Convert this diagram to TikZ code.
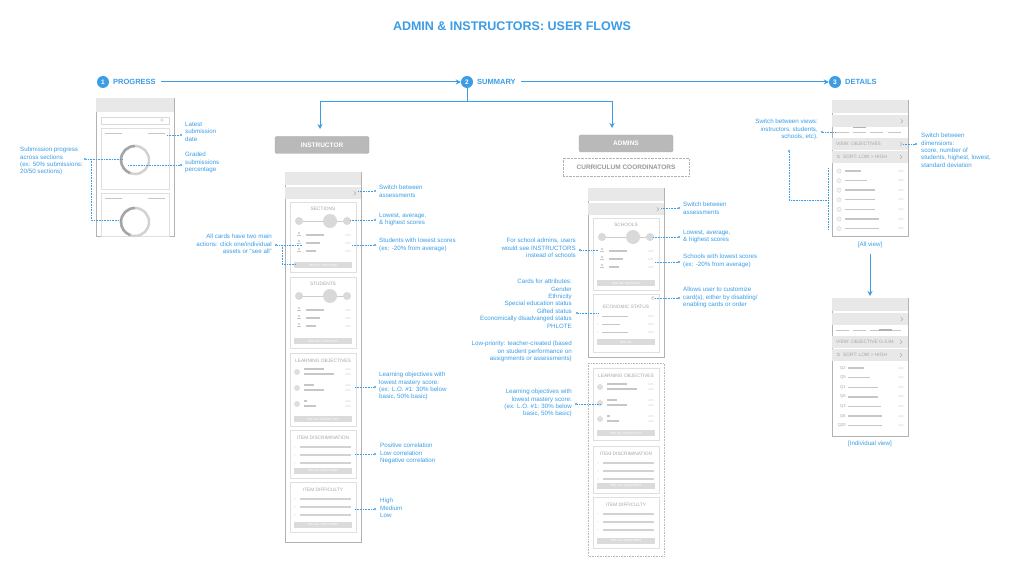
\documentclass[tikz,border=0pt]{standalone}
\usepackage{fontspec}
\setmainfont{Liberation Sans}
\newfontfamily\djv{DejaVu Sans}
\usetikzlibrary{arrows.meta}
\begin{document}
\begin{tikzpicture}[x=1pt,y=-1pt,
  lbl/.style={text=blueA,font=\fontsize{6.2}{7.4}\selectfont,align=left,anchor=north west,inner sep=0pt},
  lblr/.style={lbl,align=right,anchor=north east},
  dots/.style={blueA,densely dotted,line width=0.6pt},
  dotend/.style={fill=blueA,circle,inner sep=0.8pt},
  phone/.style={draw=gray!60,fill=white,line width=0.6pt},
  bar/.style={fill=gray!18,draw=none},
  card/.style={draw=gray!25,fill=white,line width=0.5pt},
  ctitle/.style={text=gray!70,font=\fontsize{4.8}{5}\selectfont,inner sep=0pt},
  btn/.style={fill=gray!28,draw=none},
  btxt/.style={text=white,font=\fontsize{3}{3}\selectfont,inner sep=0pt},
  line/.style={fill=gray!45,draw=none},
  pct/.style={text=gray!40,font=\fontsize{3}{3}\selectfont,inner sep=0pt},
  flow/.style={blueA,line width=1pt,-{Stealth[length=5pt,width=5pt]}},
  stepc/.style={circle,fill=blueA,text=white,font=\bfseries\fontsize{6.5}{6}\selectfont,inner sep=0pt,minimum size=12pt},
  steptxt/.style={text=blueA,font=\bfseries\fontsize{7.5}{8}\selectfont,anchor=west,inner sep=0pt},
  rolebox/.style={fill=gray!55,draw=gray!65,rounded corners=1.5pt,text=white,font=\bfseries\fontsize{6.5}{7}\selectfont,minimum width=94pt,minimum height=17pt,inner sep=0pt}
]
\definecolor{blueA}{HTML}{3A9DE6}
\useasboundingbox (0,0) rectangle (1024,577);
\fill[white] (0,0) rectangle (1024,577);

\node[text=blueA,font=\bfseries\fontsize{12.5}{14}\selectfont] (title) at (512,26) {ADMIN \& INSTRUCTORS: USER FLOWS};

% steps
\node[stepc] (s1) at (103,82) {1};
\node[steptxt] (t1) at (113,82) {PROGRESS};
\node[stepc] (s2) at (467,82) {2};
\node[steptxt] (t2) at (477,82) {SUMMARY};
\node[stepc] (s3) at (835,82) {3};
\node[steptxt] (t3) at (845,82) {DETAILS};
\draw[flow] (t1.east)++(5,0) -- (s2.west);
\draw[flow] (t2.east)++(5,0) -- (s3.west);
\coordinate (sp) at (467,102);
\draw[blueA,line width=1pt] (s2.south) -- (sp);
\draw[flow] (sp) -| (320,129);
\draw[flow] (sp) -| (612,128);

\node[rolebox] (instr) at (322,145) {INSTRUCTOR};
\node[rolebox] (adm) at (626,143.5) {ADMINS};
\node[draw=gray!60,densely dotted,text=gray!80,font=\bfseries\fontsize{6.5}{7}\selectfont,minimum width=126pt,minimum height=18pt,inner sep=0pt] (cc) at (626,167) {CURRICULUM COORDINATORS};

% ---------- helpers
\newcommand\topbars[3]{% x1 x2 y
  \fill[bar] (#1,#3) rectangle (#2,#3+13);
  \fill[bar] (#1,#3+15) rectangle (#2,#3+27);
  \draw[gray!60,line width=0.5pt] (#2-7,#3+19) -- (#2-5,#3+21) -- (#2-7,#3+23);}
\newcommand\scorecard[6]{% x1 y1 x2 y2 title button
  \draw[card] (#1,#2) rectangle (#3,#4);
  \node[ctitle] at ({(#1+#3)/2},#2+7) {#5};
  \draw[gray!40,line width=0.6pt] (#1+9,#2+19) -- (#3-9,#2+19);
  \fill[gray!30] (#1+9,#2+19) circle (4);
  \fill[gray!30] (#3-9,#2+19) circle (4);
  \fill[gray!30] ({(#1+#3)/2+7},#2+19) circle (7);
  \foreach \k/\w in {0/18,1/14,2/10}{
    \fill[gray!45] (#1+9,#2+31+\k*8) circle (1.2);
    \fill[gray!45] (#1+7,#2+33.2+\k*8) rectangle (#1+11,#2+34+\k*8);
    \fill[line] (#1+16,#2+32+\k*8) rectangle (#1+16+\w,#2+33.5+\k*8);
    \node[pct] at (#3-8,#2+33+\k*8) {xx\%};}
  \fill[btn] (#1+4,#4-10) rectangle (#3-4,#4-4);
  \node[btxt] at ({(#1+#3)/2},#4-7) {#6};}
\newcommand\locard[4]{% x1 y1 x2 y2
  \draw[card] (#1,#2) rectangle (#3,#4);
  \node[ctitle] at ({(#1+#3)/2},#2+8) {LEARNING OBJECTIVES};
  \foreach \k/\a/\b in {0/20/30,1/10/20,2/3/12}{
    \fill[gray!25] (#1+7,#2+19+\k*16) circle (3);
    \fill[line] (#1+14,#2+15+\k*16) rectangle (#1+14+\a,#2+16.5+\k*16);
    \fill[line] (#1+14,#2+20+\k*16) rectangle (#1+14+\b,#2+21.5+\k*16);
    \node[pct] at (#3-8,#2+16+\k*16) {xx\%};
    \node[pct] at (#3-8,#2+21+\k*16) {xx\%};}
  \fill[btn] (#1+4,#4-10) rectangle (#3-4,#4-4);
  \node[btxt] at ({(#1+#3)/2},#4-7) {SEE ALL OBJECTIVES};}
\newcommand\qcard[5]{% x1 y1 x2 y2 title
  \draw[card] (#1,#2) rectangle (#3,#4);
  \node[ctitle] at ({(#1+#3)/2},#2+8) {#5};
  \foreach \k in {0,1,2}{
    \node[pct] at (#1+5,#2+17+\k*8) {?};
    \fill[gray!35] (#1+10,#2+16+\k*8) rectangle (#3-5,#2+18+\k*8);}
  \fill[btn] (#1+4,#4-10) rectangle (#3-4,#4-4);
  \node[btxt] at ({(#1+#3)/2},#4-7) {SEE ALL QUESTIONS};}

% ---------- progress phone
\draw[phone] (96,98) rectangle (174,236);
\fill[bar] (96.3,98.3) rectangle (173.7,112);
\draw[gray!30] (101,117) rectangle (169,124);
\draw[gray!50] (162,120) circle (1.3);
\draw[card] (101,128) rectangle (169,189);
\draw[card] (101,193) rectangle (169,236);
\foreach \y in {133,198}{\fill[line] (105,\y) rectangle (122,\y+1.5); \fill[line] (148,\y) rectangle (165,\y+1.5);}
\draw[gray!35,line width=2.5pt] (135,160) circle (14);
\draw[gray!70,line width=2.5pt] (135,146) arc (270:110:14);
\draw[gray!35,line width=2.5pt] (135,222) circle (14);
\draw[gray!70,line width=2.5pt] (135,208) arc (270:110:14);

\node[lbl] (pl1) at (185,122) {Latest\\submission\\date};
\node[lbl] (pl2) at (185,152) {Graded\\submissions\\percentage};
\node[lbl] (pl3) at (20,147) {Submission progress\\across sections\\(ex: 50\% submissions:\\20/50 sections)};
\coordinate (pa1) at (167,135); \node[dotend] (pd1) at (181,135) {};
\draw[dots] (pa1) -- (pd1);
\coordinate (pa2) at (128,165); \node[dotend] (pd2) at (181,165) {};
\draw[dots] (pa2) -- (pd2);
\node[dotend] (pd3) at (85,159) {};
\coordinate (pa3) at (122,159); \coordinate (pa4) at (120,220);
\draw[dots] (pd3) -- (pa3);
\draw[dots] (91,159) |- (pa4);

% ---------- instructor phone
\draw[phone] (285,172) rectangle (361,542);
\topbars{285.3}{360.7}{172.3}
\scorecard{290}{202}{356}{272}{SECTIONS}{SEE ALL SECTIONS}
\scorecard{290}{277}{356}{348}{STUDENTS}{SEE ALL STUDENTS}
\locard{290}{353}{356}{426}
\qcard{290}{430}{356}{478}{ITEM DISCRIMINATION}
\qcard{290}{482}{356}{532}{ITEM DIFFICULTY}

\node[lbl] (il1) at (379,185) {Switch between\\assessments};
\node[lbl] (il2) at (379,213) {Lowest, average,\\\& highest scores};
\node[lbl] (il3) at (379,238) {Students with lowest scores\\(ex: -20\% from average)};
\node[lbl] (il4) at (379,372) {Learning objectives with\\lowest mastery score:\\(ex: L.O. \#1: 30\% below\\basic, 50\% basic)};
\node[lbl] (il5) at (380,443) {Positive correlation\\Low correlation\\Negative correlation};
\node[lbl] (il6) at (380,498) {High\\Medium\\Low};
\node[lblr] (il7) at (272,234) {All cards have two main\\actions: click one/individual\\assets or “see all”};
\foreach \n/\xa/\y in {1/358/191,2/350/220,3/352/245,4/355/387,5/355/454,6/355/509}{
  \coordinate (ia\n) at (\xa,\y); \node[dotend] (id\n) at (375,\y) {}; \draw[dots] (ia\n) -- (id\n);}
\node[dotend] (id7) at (276,245) {};
\coordinate (ia7) at (302,245); \coordinate (ia8) at (296,264);
\draw[dots] (id7) -- (ia7);
\draw[dots] (282,245) |- (ia8);

% ---------- admins phone
\draw[phone] (588,188) rectangle (664,357);
\topbars{588.3}{663.7}{188.3}
\scorecard{593}{218}{659}{290}{SCHOOLS}{SEE ALL SCHOOLS}
\draw[card] (593,294) rectangle (659,352);
\draw[gray!50,line width=0.5pt] (653,298) circle (1.6);
\node[ctitle] at (626,307) {ECONOMIC STATUS};
\foreach \k/\w in {0/26,1/18,2/26}{
  \node[pct] at (598,316+\k*8) {1};
  \fill[line] (602,315.5+\k*8) rectangle (602+\w,317+\k*8);
  \node[pct] at (651,316+\k*8) {xx\%};}
\fill[btn] (597,339) rectangle (655,345);
\node[btxt] at (626,342) {SEE ALL};
\draw[gray!55,densely dotted,line width=0.6pt] (588,363) rectangle (664,556);
\locard{593}{368}{659}{440}
\qcard{593}{446}{659}{493}{ITEM DISCRIMINATION}
\qcard{593}{497}{659}{548}{ITEM DIFFICULTY}

\node[lbl] (al1) at (683,202) {Switch between\\assessments};
\node[lbl] (al2) at (683,230) {Lowest, average,\\\& highest scores};
\node[lbl] (al3) at (683,254) {Schools with lowest scores\\(ex: -20\% from average)};
\node[lbl] (al4) at (683,287) {Allows user to customize\\card(s), either by disabling/\\enabling cards or order};
\foreach \n/\xa/\y in {1/661/208,2/653/237,3/655/262,4/655/298}{
  \coordinate (aa\n) at (\xa,\y); \node[dotend] (ad\n) at (679,\y) {}; \draw[dots] (aa\n) -- (ad\n);}
\node[lblr] (al5) at (576,238) {For school admins, users\\would see INSTRUCTORS\\instead of schools};
\node[lblr] (al6) at (572,279) {Cards for attributes:\\Gender\\Ethnicity\\Special education status\\Gifted status\\Economically disadvanged status\\PHLOTE};
\node[lblr] (al7) at (572,341) {Low-priority: teacher-created (based\\on student performance on\\assignments or assessments)};
\node[lblr] (al8) at (572,389) {Learning objectives with\\lowest mastery score:\\(ex: L.O. \#1: 30\% below\\basic, 50\% basic)};
\foreach \n/\xd/\xa/\y in {5/580/598/250,6/577/598/313,8/576/600/404}{
  \coordinate (aa\n) at (\xa,\y); \node[dotend] (ad\n) at (\xd,\y) {}; \draw[dots] (ad\n) -- (aa\n);}

% ---------- details phones
\newcommand\detphone[4]{% y1 y2 viewtext listlabels
  \draw[phone] (832,#1) rectangle (908,#2);
  \topbars{832.3}{907.7}{#1+0.3}
  \foreach \xx in {836,853,870,888}{\fill[gray!45] (\xx,#1+32) rectangle (\xx+13,#1+33.2);}
  \fill[bar] (832.3,#1+38) rectangle (907.7,#1+50);
  \fill[bar] (832.3,#1+51) rectangle (907.7,#1+63);
  \node[ctitle,anchor=west] at (836,#1+44) {#3};
  \node[ctitle,anchor=west] at (843,#1+57) {SORT: LOW > HIGH};
  \node[ctitle,font=\djv\fontsize{4.5}{4}\selectfont] at (838.5,#1+57) {⇅};
  \foreach \yy in {44,57}{\draw[gray!60,line width=0.5pt] (900,#1+\yy-2) -- (902,#1+\yy) -- (900,#1+\yy+2);}
  #4}
\detphone{100}{236}{VIEW: OBJECTIVES}{%
  \fill[gray!60] (853,127) rectangle (866,128.5);
  \foreach \k/\w in {0/16,1/22,2/30,3/30,4/30,5/34,6/34}{
    \draw[gray!30,fill=gray!10] (839,171+\k*9.6) circle (2.2);
    \fill[line] (845,170.3+\k*9.6) rectangle (845+\w,171.7+\k*9.6);
    \node[pct] at (901,171+\k*9.6) {xx\%};}}
\detphone{298}{436}{VIEW: OBJECTIVE G-3.94}{%
  \fill[gray!60] (879,329) rectangle (892,330.5);
  \foreach \k/\q/\w in {0/Q2/16,1/Q5/22,2/Q1/30,3/Q8/30,4/Q3/33,5/Q6/34,6/Q20/34}{
    \node[ctitle,font=\fontsize{4.2}{4}\selectfont,anchor=east] at (846,368+\k*9.6) {\q};
    \fill[line] (848,367.3+\k*9.6) rectangle (848+\w,368.7+\k*9.6);
    \node[pct] at (901,368+\k*9.6) {xx\%};}}

\node[text=blueA,font=\fontsize{6.2}{7}\selectfont] (av) at (870,245) {[All view]};
\node[text=blueA,font=\fontsize{6.2}{7}\selectfont] (iv) at (870,444) {[Individual view]};
\draw[flow] (av.south)++(0,3) -- (870,296);

\node[lblr] (dl1) at (818,119) {Switch between views:\\instructors, students,\\schools, etc).};
\node[lbl] (dl2) at (921,133) {Switch between\\dimensions:\\score, number of\\students, highest, lowest,\\standard deviation};
\node[dotend] (dd1) at (822,132) {}; \coordinate (da1) at (836,132);
\draw[dots] (dd1) -- (da1);
\node[dotend] (dd2) at (789,151) {}; \coordinate (da2) at (828,200);
\draw[dots] (dd2) |- (da2);
\draw[dots] (828,168) -- (828,230);
\node[dotend] (dd3) at (916,144) {}; \coordinate (da3) at (903,144);
\draw[dots] (da3) -- (dd3);
\end{tikzpicture}
\end{document}
